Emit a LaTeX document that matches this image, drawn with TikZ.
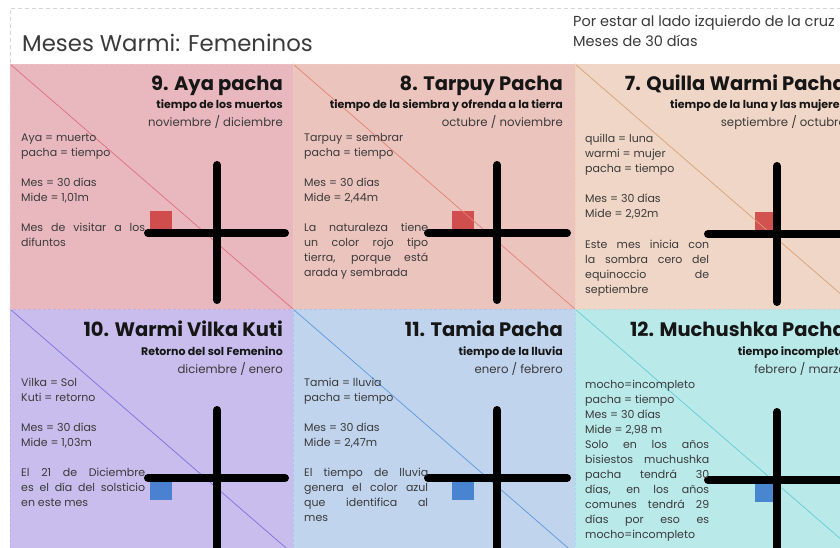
\documentclass[tikz,border=0pt]{standalone}
\usepackage{fontspec}
\setmainfont{Poppins}
\definecolor{fillA}{HTML}{E9B8BF}
\definecolor{diagA}{HTML}{DE6F7E}
\definecolor{fillB}{HTML}{ECC4BE}
\definecolor{diagB}{HTML}{E2836F}
\definecolor{fillC}{HTML}{F0D6C6}
\definecolor{diagC}{HTML}{D9A077}
\definecolor{fillD}{HTML}{C8BDEC}
\definecolor{diagD}{HTML}{7C70E0}
\definecolor{fillE}{HTML}{C1D4EE}
\definecolor{diagE}{HTML}{5B98E0}
\definecolor{fillF}{HTML}{BAE9E9}
\definecolor{diagF}{HTML}{62CCD6}
\definecolor{sqred}{HTML}{CC3B3B}
\definecolor{sqblue}{HTML}{3577CC}
\definecolor{txt}{HTML}{3A3A3A}
\definecolor{ttl}{HTML}{161616}
\definecolor{framegray}{HTML}{D4D4D4}
\newcommand\bodytext[1]{\parbox[t]{124pt}{\fontsize{11}{15}\selectfont\emergencystretch=10pt #1}}
\begin{document}
\begin{tikzpicture}[x=1pt,y=-1pt,
  frameline/.style={draw=framegray, line width=0.8pt, dash pattern=on 4pt off 3pt},
  cell/.style={line width=0.6pt, dash pattern=on 3pt off 2pt},
  diagline/.style={line width=0.7pt},
  crossline/.style={line width=8pt, line cap=round, black},
  redsq/.style={fill=sqred, fill opacity=0.85},
  bluesq/.style={fill=sqblue, fill opacity=0.85},
  ptitle/.style={anchor=base east, inner sep=0pt, text=ttl, font=\fontsize{19.5}{22}\selectfont\bfseries},
  psub/.style={anchor=base east, inner sep=0pt, text=ttl, font=\fontsize{11}{12}\selectfont\bfseries},
  pmonth/.style={anchor=base east, inner sep=0pt, text=txt, font=\fontsize{11.7}{13}\selectfont},
  pbody/.style={anchor=base west, inner sep=0pt, text=txt},
  head/.style={anchor=base west, inner sep=0pt, text=txt}]
\useasboundingbox (0,0) rectangle (840,548);
\clip (0,0) rectangle (840,548);
\fill[white] (0,0) rectangle (840,548);
% header
\draw[frameline] (10,560) -- (10,8) -- (850,8);
\node[head, font=\fontsize{22.8}{26}\selectfont] (maintitle) at (22,52) {Meses Warmi: Femeninos};
\node[head, font=\fontsize{14.5}{17}\selectfont] (note1) at (573,27) {Por estar al lado izquierdo de la cruz};
\node[head, font=\fontsize{14.5}{17}\selectfont] (note2) at (573,47) {Meses de 30 días};
% panel fills
\fill[fillA] (10,64) rectangle (293,309);
\fill[fillB] (293,64) rectangle (575,309);
\fill[fillC] (575,64) rectangle (858,309);
\fill[fillD] (10,309) rectangle (293,554);
\fill[fillE] (293,309) rectangle (575,554);
\fill[fillF] (575,309) rectangle (858,554);
% squares
\fill[redsq] (150,211) rectangle (172,233);
\fill[redsq] (452,211) rectangle (474,233);
\fill[redsq] (755,212) rectangle (777,234);
\fill[bluesq] (150,478) rectangle (172,500);
\fill[bluesq] (452,478) rectangle (474,500);
\fill[bluesq] (755,480) rectangle (777,502);
% diagonals
\draw[diagline, diagA] (10,64) -- (293,309);
\draw[diagline, diagB] (293,64) -- (575,309);
\draw[diagline, diagC] (575,64) -- (858,309);
\draw[diagline, diagD] (10,309) -- (293,554);
\draw[diagline, diagE] (293,309) -- (575,554);
\draw[diagline, diagF] (575,309) -- (858,554);
% cell borders
\draw[cell, draw=diagA!45] (10,64) rectangle (293,309);
\draw[cell, draw=diagB!45] (293,64) rectangle (575,309);
\draw[cell, draw=diagC!45] (575,64) rectangle (858,309);
\draw[cell, draw=diagD!55] (10,309) rectangle (293,554);
\draw[cell, draw=diagE!55] (293,309) rectangle (575,554);
\draw[cell, draw=diagF!55] (575,309) rectangle (858,554);
% crosses
\draw[crossline] (217,165) -- (217,300);
\draw[crossline] (148,233) -- (285,233);
\draw[crossline] (497,165) -- (497,300);
\draw[crossline] (428,233) -- (567,233);
\draw[crossline] (777,166) -- (777,302);
\draw[crossline] (708,234) -- (850,234);
\draw[crossline] (217,410) -- (217,560);
\draw[crossline] (148,478) -- (285,478);
\draw[crossline] (497,410) -- (497,560);
\draw[crossline] (428,478) -- (567,478);
\draw[crossline] (777,412) -- (777,560);
\draw[crossline] (708,480) -- (850,480);
% panel 9
\node[ptitle] (t9) at (283,91) {9. Aya pacha};
\node[psub] (s9) at (283,109) {tiempo de los muertos};
\node[pmonth] (m9) at (283,127) {noviembre / diciembre};
\node[pbody] (b9) at (21,142) {\bodytext{Aya = muerto\\ pacha = tiempo\par\vspace{15pt}Mes = 30 días\\ Mide = 1,01m\par\vspace{15pt}Mes de visitar a los\linebreak difuntos}};
% panel 8
\node[ptitle] (t8) at (563,91) {8. Tarpuy Pacha};
\node[psub] (s8) at (563,109) {tiempo de la siembra y ofrenda a la tierra};
\node[pmonth] (m8) at (563,127) {octubre / noviembre};
\node[pbody] (b8) at (304,142) {\bodytext{Tarpuy = sembrar\\ pacha = tiempo\par\vspace{15pt}Mes = 30 días\\ Mide = 2,44m\par\vspace{15pt}La naturaleza tiene\linebreak un color rojo tipo\linebreak tierra, porque está\linebreak arada y sembrada}};
% panel 7
\node[ptitle] (t7) at (846,91) {7. Quilla Warmi Pacha};
\node[psub] (s7) at (846,109) {tiempo de la luna y las mujeres};
\node[pmonth] (m7) at (846,127) {septiembre / octubre};
\node[pbody] (b7) at (585,143) {\bodytext{quilla = luna\\ warmi = mujer\\ pacha = tiempo\par\vspace{15pt}Mes = 30 días\\ Mide = 2,92m\par\vspace{15pt}Este mes inicia con\linebreak la sombra cero del\linebreak equinoccio de\linebreak septiembre}};
% panel 10
\node[ptitle] (t10) at (283,336) {10. Warmi Vilka Kuti};
\node[psub] (s10) at (283,355) {Retorno del sol Femenino};
\node[pmonth] (m10) at (283,373) {diciembre / enero};
\node[pbody] (b10) at (21,386) {\bodytext{Vilka = Sol\\ Kuti = retorno\par\vspace{15pt}Mes = 30 días\\ Mide = 1,03m\par\vspace{15pt}El 21 de Diciembre\linebreak es el día del solsticio\linebreak en este mes}};
% panel 11
\node[ptitle] (t11) at (563,336) {11. Tamia Pacha};
\node[psub] (s11) at (563,355) {tiempo de la lluvia};
\node[pmonth] (m11) at (563,373) {enero / febrero};
\node[pbody] (b11) at (304,386) {\bodytext{Tamia = lluvia\\ pacha = tiempo\par\vspace{15pt}Mes = 30 días\\ Mide = 2,47m\par\vspace{15pt}El tiempo de lluvia\linebreak genera el color azul\linebreak que identifica al\linebreak mes}};
% panel 12
\node[ptitle] (t12) at (846,336) {12. Muchushka Pacha};
\node[psub] (s12) at (846,355) {tiempo incompleto};
\node[pmonth] (m12) at (846,373) {febrero / marzo};
\node[pbody] (b12) at (585,388) {\bodytext{mocho=incompleto\\ pacha = tiempo\\ Mes = 30 días\\ Mide = 2,98 m\\ Solo en los años\linebreak bisiestos muchushka\linebreak pacha tendrá 30\linebreak días, en los años\linebreak comunes tendrá 29\linebreak días por eso es\linebreak mocho=incompleto}};
\end{tikzpicture}
\end{document}
